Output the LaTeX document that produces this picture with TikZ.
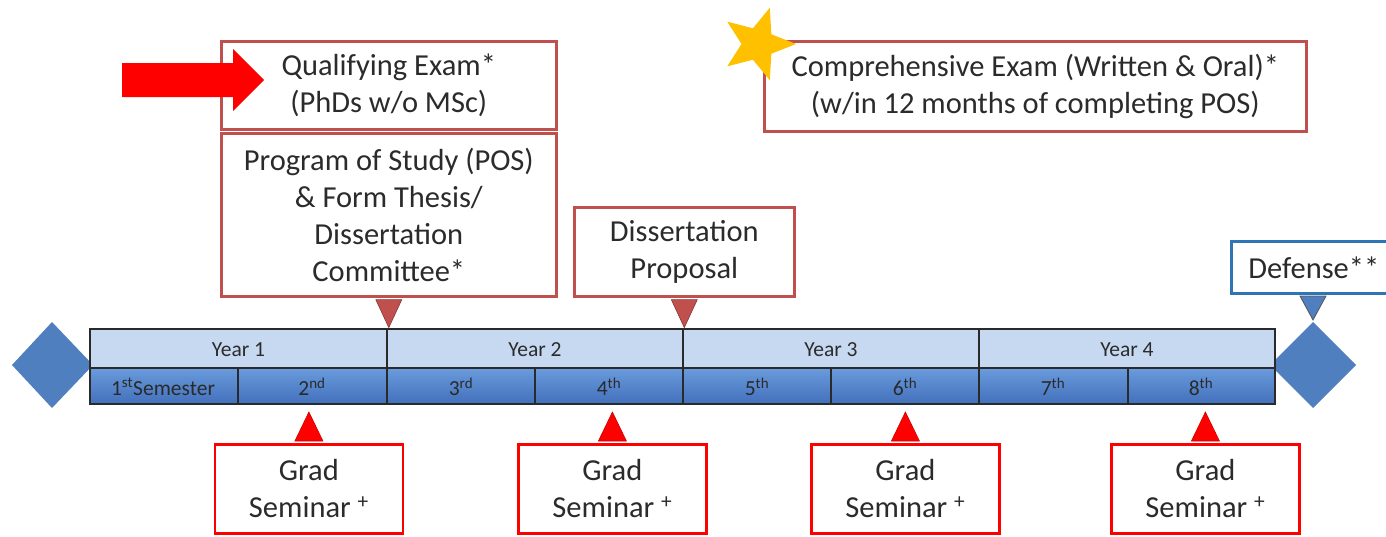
\documentclass[tikz,border=0pt]{standalone}
\usepackage{fontspec}
\setmainfont{Carlito}
\usetikzlibrary{calc,shapes.geometric}
\definecolor{ink}{HTML}{2B2B2B}
\definecolor{rose}{HTML}{C0504D}
\definecolor{brightred}{HTML}{FF0000}
\definecolor{steel}{HTML}{4F7FBF}
\definecolor{paleblue}{HTML}{C6D9F1}
\definecolor{midblue}{HTML}{6A9BDC}
\definecolor{deepblue}{HTML}{4270BC}
\definecolor{framegray}{HTML}{2A2A2A}
\definecolor{gold}{HTML}{FFC000}
\definecolor{defblue}{HTML}{2E75B6}
\tikzset{
  bigtext/.style={text=ink, font=\fontsize{30.5}{37}\selectfont, align=center},
  milestone/.style={bigtext, draw=rose, line width=2.6pt, fill=white, inner sep=0pt},
  seminarbox/.style={bigtext, draw=brightred, line width=2.8pt, fill=white, inner sep=0pt,
    minimum width=188pt, minimum height=89pt, anchor=north west},
  defbox/.style={bigtext, draw=defblue, line width=2.6pt, fill=white, inner sep=0pt},
  yearlbl/.style={text=ink, font=\fontsize{21.5}{24}\selectfont},
  semlbl/.style={text=framegray, font=\fontsize{21.5}{24}\selectfont},
  downmark/.style={fill=rose, draw=rose!70!black, line width=0.6pt},
  upmark/.style={fill=brightred, draw=brightred!80!black, line width=0.6pt},
  tick/.style={draw=framegray, line width=2.4pt},
}
\begin{document}
\begin{tikzpicture}[x=1pt,y=-1pt]
\useasboundingbox (0,0) rectangle (1386,536);

% end diamonds behind the time bar
\fill[steel] (52,322) -- (93,365) -- (52,408) -- (12,365) -- cycle;
\fill[steel] (1313,322) -- (1356,365) -- (1313,408) -- (1270,365) -- cycle;

% time bar: year row and semester row
\fill[paleblue] (90,330) rectangle (1275,368);
\shade[top color=midblue, bottom color=deepblue] (90,368) rectangle (1275,404);
\draw[tick] (90,368) -- (1275,368);
\foreach \x in {387,683,979} \draw[tick] (\x,329) -- (\x,404);
\foreach \x in {238,535,831,1128} \draw[tick] (\x,368) -- (\x,404);
\draw[framegray, line width=2.8pt] (90,329) rectangle (1275,404);

\node[yearlbl] (y1) at (238.5,350) {Year 1};
\node[yearlbl] (y2) at (535,350) {Year 2};
\node[yearlbl] (y3) at (831,350) {Year 3};
\node[yearlbl] (y4) at (1127,350) {Year 4};

\node[semlbl] (s1) at (163,387) {1\textsuperscript{st}Semester};
\node[semlbl] (s2) at (312,387) {2\textsuperscript{nd}};
\node[semlbl] (s3) at (461,387) {3\textsuperscript{rd}};
\node[semlbl] (s4) at (609,387) {4\textsuperscript{th}};
\node[semlbl] (s5) at (757,387) {5\textsuperscript{th}};
\node[semlbl] (s6) at (905,387) {6\textsuperscript{th}};
\node[semlbl] (s7) at (1053,387) {7\textsuperscript{th}};
\node[semlbl] (s8) at (1201,387) {8\textsuperscript{th}};

% milestone boxes above the bar
\node[milestone, minimum width=335pt, minimum height=88pt, anchor=north west] (qual) at (220,40)
  {Qualifying Exam*\\(PhDs w/o MSc)};
\node[milestone, minimum width=335pt, minimum height=163pt, anchor=north west] (pos) at (220,132)
  {Program of Study (POS)\\\& Form Thesis/\\Dissertation\\Committee*};
\node[milestone, minimum width=220pt, minimum height=89pt, anchor=north west] (prop) at (573,206)
  {Dissertation\\Proposal};
\node[milestone, minimum width=542pt, minimum height=90pt, anchor=north west] (comp) at (763,40)
  {Comprehensive Exam (Written \& Oral)*\\(w/in 12 months of completing POS)};
\node[defbox, minimum width=165pt, minimum height=52pt, anchor=north west] (def) at (1230,240)
  {Defense**};

% markers pointing down onto the bar
\draw[downmark] ($(pos.south)+(-13,2)$) -- ($(pos.south)+(13,2)$) -- ($(pos.south)+(0,30)$) -- cycle;
\draw[downmark] ($(prop.south)+(-13,2)$) -- ($(prop.south)+(13,2)$) -- ($(prop.south)+(0,30)$) -- cycle;
\coordinate (defmark) at (1313,296);
\draw[fill=steel, draw=framegray!80, line width=0.8pt] ($(defmark)+(-13,0)$) -- ($(defmark)+(13,0)$) -- ($(defmark)+(0,24)$) -- cycle;

% star on the comprehensive exam box
\node[star, star points=5, star point ratio=2.3, fill=gold, minimum size=76pt, inner sep=0pt,
  shape border rotate=-18] (star) at (758,44) {};

% red arrow pointing at the qualifying exam
\coordinate (tip) at (264,80);
\fill[brightred] (122,63) -- (233,63) -- (233,49) -- (tip) -- (233,111) -- (233,97) -- (122,97) -- cycle;

% grad seminar boxes with markers pointing up
\foreach \n/\x in {a/213.5,b/517,c/810,d/1110}{
  \node[seminarbox] (gs\n) at (\x,443) {Grad\\Seminar \textsuperscript{+}};
  \draw[upmark] ($(gs\n.north)+(-14,-2)$) -- ($(gs\n.north)+(14,-2)$) -- ($(gs\n.north)+(0,-31)$) -- cycle;
}
\end{tikzpicture}
\end{document}
